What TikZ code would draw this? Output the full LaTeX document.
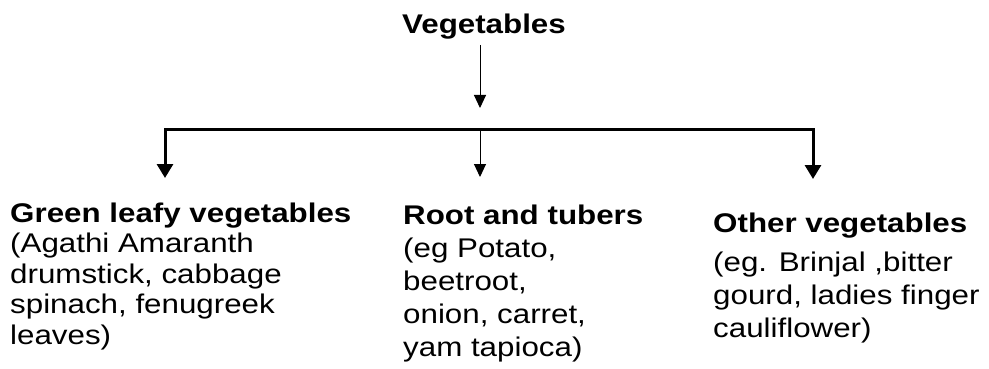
\documentclass[tikz,border=0pt]{standalone}
\usepackage{fontspec}
\setmainfont{Liberation Sans}[FakeStretch=1.16]
\usetikzlibrary{arrows.meta}
\begin{document}
\begin{tikzpicture}[x=1pt,y=-1pt,
  txt/.style={inner sep=0pt,anchor=base west,font=\fontsize{27}{33}\selectfont},
  ttl/.style={txt,font=\fontsize{27}{33}\selectfont\bfseries},
  thinarrow/.style={line width=1pt,-{Triangle[length=13pt,width=12pt]}},
  thickarrow/.style={line width=3pt,-{Triangle[length=14pt,width=16pt]}},
  bar/.style={line width=3pt}]
\useasboundingbox (0,0) rectangle (989,369);
\node[ttl,anchor=base] (veg) at (484,34) {Vegetables};
\coordinate (vtop) at (480,45);
\coordinate (vbar) at (480,108);
\draw[thinarrow] (vtop) -- (vbar);
\coordinate (bl) at (165,129);
\coordinate (bc) at (480,129);
\coordinate (br) at (813,129);
\draw[bar,line cap=rect] (bl) -- (br);
\coordinate (tl) at (165,178);
\coordinate (tc) at (480,177);
\coordinate (tr) at (813,179);
\draw[thickarrow] (bl) -- (tl);
\draw[thinarrow] (bc) -- (tc);
\draw[thickarrow] (br) -- (tr);
% column 1
\node[ttl] (g0) at (10,222) {Green leafy vegetables};
\foreach \t [count=\i] in {{(Agathi Amaranth},{drumstick, cabbage},{spinach, fenugreek},{leaves)}}
  \node[txt] (g\i) at (10,222+30.5*\i) {\t};
% column 2
\node[ttl] (r0) at (403,224) {Root and tubers};
\foreach \t [count=\i] in {{(eg Potato,},{beetroot,},{onion, carret,},{yam tapioca)}}
  \node[txt] (r\i) at (403,224.5+33*\i) {\t};
% column 3
\node[ttl] (o0) at (713,232) {Other vegetables};
\foreach \t [count=\i] in {{(eg. Brinjal ,bitter},{gourd, ladies finger},{cauliflower)}}
  \node[txt] (o\i) at (713,238+33*\i) {\t};
\end{tikzpicture}
\end{document}
